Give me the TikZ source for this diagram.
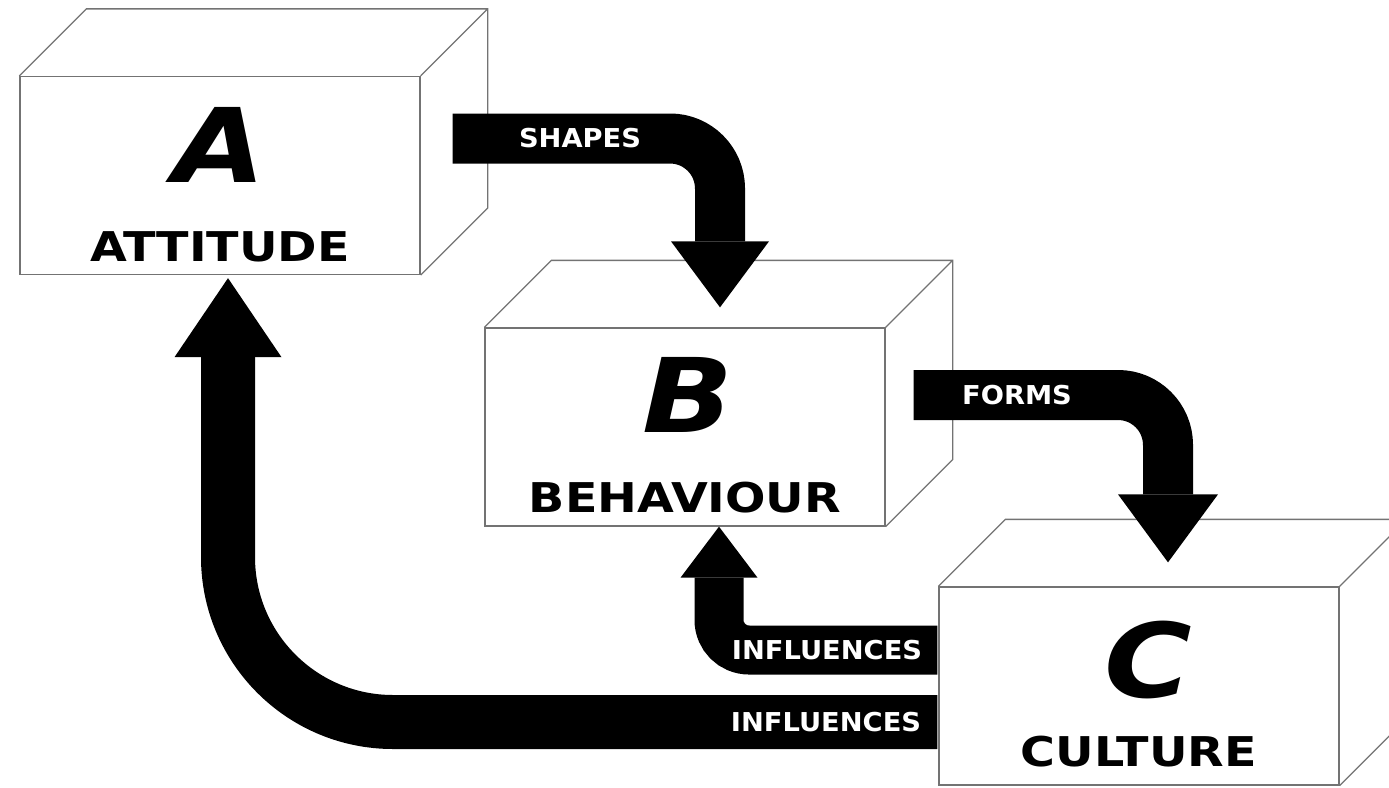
\documentclass[tikz,border=0pt]{standalone}
\usepackage{fontspec}
\newfontfamily\boxfont[FakeStretch=1.16]{DejaVu Sans}
\newfontfamily\arrowfont[FakeStretch=1.05]{DejaVu Sans}
\usepackage{tikz}
\usetikzlibrary{arrows.meta,positioning}

\tikzset{
  face/.style = {draw = black!55, line width = 1.3pt},
  front/.style = {face, minimum width = 400pt, minimum height = 198pt, inner sep = 0pt},
  letter/.style = {font = \boxfont\bfseries\itshape\fontsize{103}{110}\selectfont},
  word/.style = {font = \boxfont\bfseries\fontsize{41}{48}\selectfont},
  band/.style = {line width = 50pt, rounded corners = 50pt},
  lbl/.style = {text = white, font = \arrowfont\bfseries\fontsize{26}{30}\selectfont},
}

\begin{document}
\begin{tikzpicture}[x = 1pt, y = -1pt]
\clip (0,0) rectangle (1389,787);
% the three boxes
\node[front] (a) at (220,175.5) {};
\node[front] (b) at (685,427) {};
\node[front] (c) at (1139,686) {};
\foreach \n in {a,b,c}
  \draw[face] (\n.north west) -- ([shift={(67,-67)}]\n.north west) -- ([shift={(67,-67)}]\n.north east) -- ([shift={(67,-67)}]\n.south east) -- (\n.south east)
    (\n.north east) -- ([shift={(67,-67)}]\n.north east);
\node[letter] (aletter) at (220,145) {A};
\node[word] (aword) at (220,247) {ATTITUDE};
\node[letter] (bletter) at (688,395) {B};
\node[word] (bword) at (685,498) {BEHAVIOUR};
\node[letter] (cletter) at (1148,660) {C};
\node[word] (cword) at (1139,752) {CULTURE};
% arrows
\draw[band, -{Triangle[width=98pt, length=66pt, line width=0pt]}] ([shift={(32,-37)}]a.east) -| ([shift={(35,-20)}]b.north);
\draw[band, -{Triangle[width=100pt, length=68pt, line width=0pt]}] ([shift={(28,-32)}]b.east) -| ([shift={(29,-24)}]c.north);
\draw[band, line width = 49pt, rounded corners = 30pt, -{Triangle[width=77pt, length=51pt, line width=0pt]}] ([shift={(-1,-36)}]c.west) -| ([xshift=34pt]b.south);
\draw[band, line width = 54pt, rounded corners = 165pt, -{Triangle[width=107pt, length=79pt, line width=0pt]}] ([shift={(-1,36)}]c.west) -| ([shift={(8,3)}]a.south);
\node[lbl] (shapes) at (580,138) {SHAPES};
\node[lbl] (forms) at (1017,395) {FORMS};
\node[lbl] (infl1) at (827,650) {INFLUENCES};
\node[lbl] (infl2) at (826,722) {INFLUENCES};
\end{tikzpicture}
\end{document}
